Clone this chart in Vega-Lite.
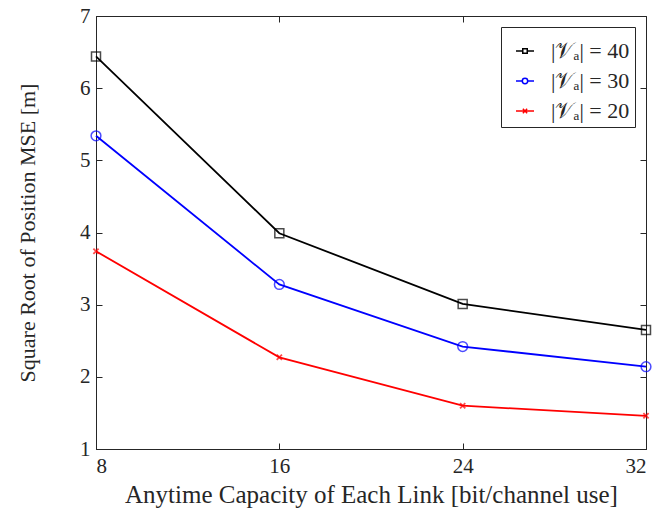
{
  "$schema": "https://vega.github.io/schema/vega-lite/v6.json",
  "width": 550,
  "height": 433,
  "autosize": {"type": "none"},
  "padding": {"left": 96, "top": 16, "right": 23, "bottom": 64},
  "background": "white",
  "config": {
    "font": "Liberation Serif",
    "view": {"stroke": "#262626", "strokeWidth": 1},
    "axis": {
      "grid": false,
      "domainColor": "#262626",
      "domainWidth": 1,
      "tickColor": "#262626",
      "tickSize": -6,
      "tickWidth": 1,
      "labelFont": "Liberation Serif",
      "labelFontSize": 21,
      "labelColor": "#262626",
      "titleFont": "Liberation Serif",
      "titleFontWeight": "normal",
      "titleColor": "#262626"
    }
  },
  "data": {
    "values": [
      {"series": "40", "x": 8, "y": 6.44},
      {"series": "40", "x": 16, "y": 3.99},
      {"series": "40", "x": 24, "y": 3.01},
      {"series": "40", "x": 32, "y": 2.65},
      {"series": "30", "x": 8, "y": 5.34},
      {"series": "30", "x": 16, "y": 3.28},
      {"series": "30", "x": 24, "y": 2.42},
      {"series": "30", "x": 32, "y": 2.14},
      {"series": "20", "x": 8, "y": 3.74},
      {"series": "20", "x": 16, "y": 2.27},
      {"series": "20", "x": 24, "y": 1.6},
      {"series": "20", "x": 32, "y": 1.46}
    ]
  },
  "encoding": {
    "x": {"field": "x", "type": "quantitative", "scale": {"domain": [8, 32], "nice": false, "zero": false}, "axis": null},
    "y": {"field": "y", "type": "quantitative", "scale": {"domain": [1, 7], "nice": false, "zero": false}, "axis": null}
  },
  "layer": [
    {
      "mark": {"type": "line", "strokeWidth": 1.8},
      "encoding": {
        "x": {"field": "x", "type": "quantitative", "axis": {"orient": "bottom", "values": [8, 16, 24, 32], "labelPadding": 12, "title": "Anytime Capacity of Each Link [bit/channel use]", "titleFontSize": 25, "titlePadding": 6}},
        "y": {"field": "y", "type": "quantitative", "axis": {"orient": "left", "values": [1, 2, 3, 4, 5, 6, 7], "labelPadding": 12, "title": "Square Root of Position MSE [m]", "titleFontSize": 22, "titlePadding": 40}},
        "color": {"field": "series", "type": "nominal", "sort": ["40", "30", "20"], "scale": {"domain": ["40", "30", "20"], "range": ["#000000", "#0000ff", "#ff0000"]},
          "legend": {
            "title": null,
            "orient": "top-right",
            "offset": 11,
            "padding": 5,
            "strokeColor": "#262626",
            "fillColor": "white",
            "symbolSize": 1296,
            "symbolStrokeWidth": 1.5,
            "symbolFillColor": "transparent",
            "rowPadding": -15,
            "labelOffset": 7,
            "labelFont": "Liberation Serif",
            "labelFontSize": 22,
            "labelColor": "#262626",
            "labelExpr": "'|𝒱ₐ| = ' + datum.label",
            "encode": {
              "symbols": {
                "update": {
                  "size": {"value": 1296},
                  "strokeWidth": {"value": 1.5},
                  "shape": {"signal": "datum.value === '40' ? 'M-0.5,0H-0.125M0.125,0H0.5M-0.125,-0.125H0.125V0.125H-0.125Z' : datum.value === '30' ? 'M-0.5,0H-0.15M0.15,0H0.5M0.15,0A0.15,0.15,0,1,1,-0.15,0A0.15,0.15,0,1,1,0.15,0Z' : 'M-0.5,0H0.5M-0.12,-0.12L0.12,0.12M-0.12,0.12L0.12,-0.12'"}
                }
              }
            }
          }
        },
        "detail": {"field": "series"}
      }
    },
    {
      "transform": [{"filter": "datum.series === '40'"}],
      "mark": {"type": "point", "shape": "square", "size": 81, "filled": false, "stroke": "#000000", "strokeWidth": 1.5},
      "encoding": {
        "x": {"field": "x", "type": "quantitative", "axis": {"orient": "top", "values": [8, 16, 24, 32], "labels": false, "title": null, "domain": false}},
        "y": {"field": "y", "type": "quantitative", "axis": {"orient": "right", "values": [1, 2, 3, 4, 5, 6, 7], "labels": false, "title": null, "domain": false}}
      }
    },
    {
      "transform": [{"filter": "datum.series === '30'"}],
      "mark": {"type": "point", "shape": "circle", "size": 95, "filled": false, "stroke": "#0000ff", "strokeWidth": 1.5}
    },
    {
      "transform": [{"filter": "datum.series === '20'"}],
      "mark": {"type": "point", "shape": "M-0.5,-0.5L0.5,0.5M-0.5,0.5L0.5,-0.5", "size": 110, "filled": false, "stroke": "#ff0000", "strokeWidth": 1.8}
    }
  ],
  "resolve": {"axis": {"x": "independent", "y": "independent"}}
}
